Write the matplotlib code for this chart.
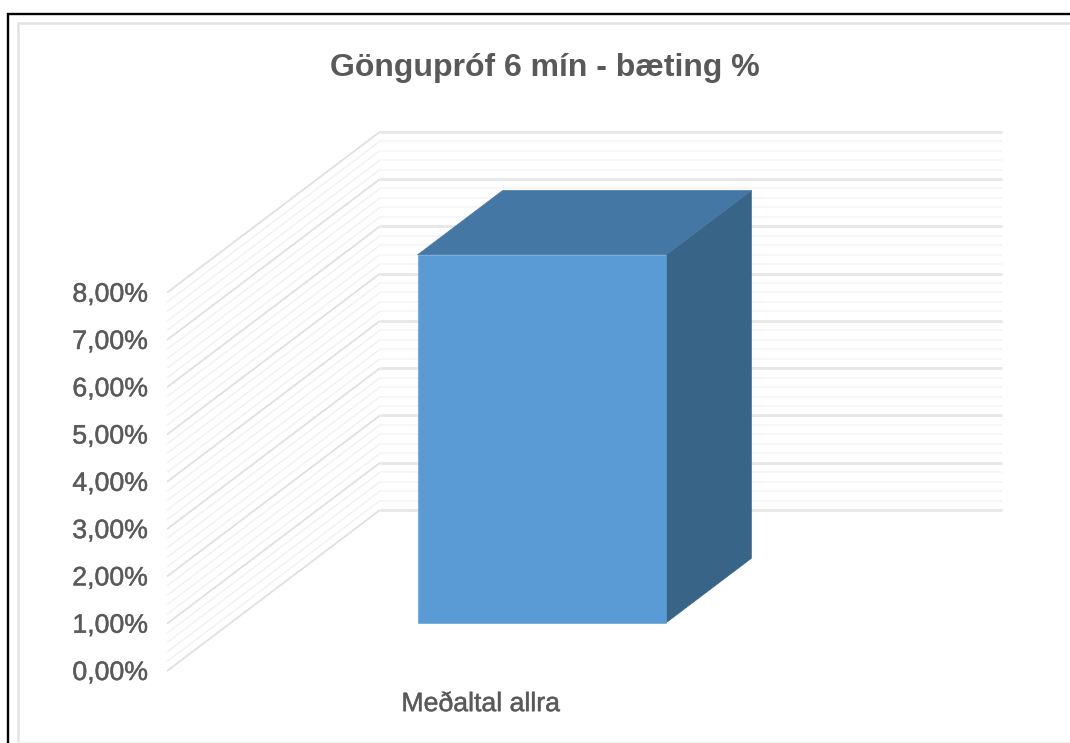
import matplotlib
matplotlib.use("Agg")
import matplotlib.pyplot as plt
import matplotlib.patheffects as pe
from matplotlib.lines import Line2D
from matplotlib.patches import Polygon
from matplotlib.transforms import ScaledTranslation

plt.rcParams['font.family'] = ['Liberation Sans', 'DejaVu Sans']

title = "Göngupróf 6 mín - bæting %"
categories = ["Meðaltal allra"]
values = [7.78]
major_ticks = [0, 1, 2, 3, 4, 5, 6, 7, 8]
tick_labels = ["0,00%", "1,00%", "2,00%", "3,00%", "4,00%", "5,00%", "6,00%", "7,00%", "8,00%"]
minor_step = 0.2

W, H = 1070, 743
fig = plt.figure(figsize=(W / 100, H / 100), dpi=100, facecolor="white")
L, R, B, T = 167, 789, 671, 292.7
ax = fig.add_axes([L / W, 1 - B / H, (R - L) / W, (B - T) / H])
ax.set_xlim(0, 1)
ax.set_ylim(0, 8)
for s in ax.spines.values():
    s.set_visible(False)
ax.patch.set_alpha(0)

DX = 213 / (R - L)          # oblique shift of full depth in x units
DY = 161 / ((B - T) / 8)    # oblique shift of full depth in value units


def proj(x, v, d):
    return x + d * DX, v + d * DY


# walls
n_minor = int(round(8 / minor_step))
for i in range(n_minor + 1):
    v = i * minor_step
    is_major = i % 5 == 0
    col_side = "#e0e0e0" if is_major else "#f2f2f2"
    col_back = "#e8e8e8" if is_major else "#f6f6f6"
    p0, p1, p2 = proj(0, v, 0), proj(0, v, 1), proj(1, v, 1)
    ax.plot([p0[0], p1[0]], [p0[1], p1[1]], color=col_side, lw=1.3 if is_major else 1.1,
            clip_on=False, zorder=1, solid_capstyle="butt")
    ax.plot([p1[0], p2[0]], [p1[1], p2[1]], color=col_back, lw=2.2 if is_major else 1.4,
            clip_on=False, zorder=1, solid_capstyle="butt")

# bar
bar_w, d0, d1 = 0.4, 0.30, 0.70
for k, val in enumerate(values):
    x0, x1 = 0.5 + k - bar_w / 2, 0.5 + k + bar_w / 2
    front = [proj(x0, 0, d0), proj(x1, 0, d0), proj(x1, val, d0), proj(x0, val, d0)]
    side = [proj(x1, 0, d0), proj(x1, 0, d1), proj(x1, val, d1), proj(x1, val, d0)]
    top = [proj(x0, val, d0), proj(x1, val, d0), proj(x1, val, d1), proj(x0, val, d1)]
    ax.add_patch(Polygon(side, closed=True, fc="#386488", ec="#386488", lw=0.4, clip_on=False, zorder=3))
    ax.add_patch(Polygon(top, closed=True, fc="#4577a4", ec="#4577a4", lw=0.4, clip_on=False, zorder=3))
    ax.add_patch(Polygon(front, closed=True, fc="#5b9bd5", ec="#5b9bd5", lw=0.4, clip_on=False, zorder=4))

# axes text
soft = [pe.withStroke(linewidth=0.4, foreground="#777777")]
ax.set_yticks(major_ticks, tick_labels)
ax.tick_params(axis="y", length=0, pad=13.5, labelsize=19.2, labelcolor="#595959")
ax.set_xticks([0.5 + k for k in range(len(categories))], categories)
ax.tick_params(axis="x", length=0, pad=14.5, labelsize=19.2, labelcolor="#595959")
for lab in ax.get_yticklabels() + ax.get_xticklabels():
    lab.set_path_effects(soft)
for lab in ax.get_xticklabels():
    lab.set_transform(lab.get_transform() + ScaledTranslation(2.5 / 100, 0, fig.dpi_scale_trans))
for lab in ax.get_yticklabels():
    lab.set_transform(lab.get_transform() + ScaledTranslation(-0.5 / 100, 1 / 100, fig.dpi_scale_trans))

fig.text(545 / W, 1 - 68 / H, title, ha="center", va="center", fontsize=23,
         fontweight="bold", color="#595959")


# frames
def fline(xs, ys, color, lw):
    fig.add_artist(Line2D([x / W for x in xs], [1 - y / H for y in ys], color=color, lw=lw,
                          solid_joinstyle="miter", solid_capstyle="butt"))


fline([18, 18, W], [742, 23, 23], "#e2e2e2", 1.8)
fline([18, W], [742, 742], "#f0f0f0", 1.0)
fline([7.5, 7.5, W], [H, 13.5, 13.5], "#000000", 1.7)

fig.savefig("out.png", dpi=100)
